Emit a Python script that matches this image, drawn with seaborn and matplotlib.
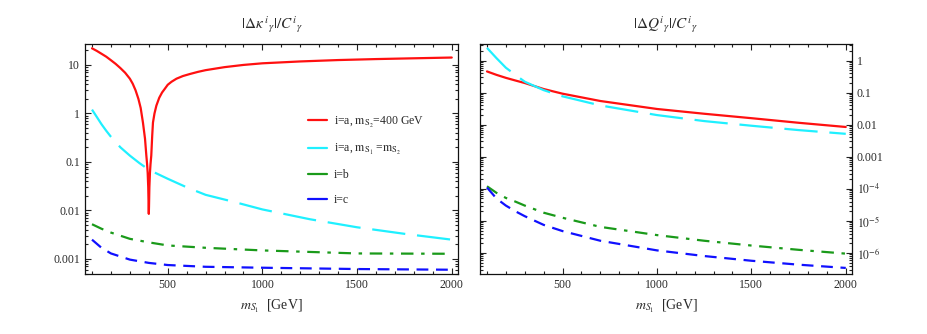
import numpy as np
import pandas as pd
import matplotlib
matplotlib.use("Agg")
import matplotlib.pyplot as plt
import seaborn as sns
from matplotlib.ticker import FixedLocator, FixedFormatter, LogLocator, MultipleLocator, NullFormatter

# ---------------- data ----------------
# left panel: |Delta kappa^i_gamma| / C^i_gamma
kap_red_m = [100, 125, 150, 175, 200, 225, 250, 275, 300, 315, 330, 345, 357, 369, 380, 387, 391, 394,
             397, 399, 400, 401, 403, 406, 409, 413, 418, 422, 430, 440, 455, 470, 484, 500, 520, 546,
             580, 617, 660, 700, 800, 900, 1000, 1200, 1400, 1600, 1800, 2000]
kap_red_v = [22, 19.5, 17, 14.8, 12.5, 10.5, 8.6, 6.9, 5.2, 4.1, 3.0, 2.0, 1.3, 0.65, 0.3, 0.135, 0.09, 0.06,
             0.03, 0.012, 0.0085, 0.012, 0.03, 0.06, 0.09, 0.135, 0.35, 0.65, 1.0, 1.45, 2.1, 2.7, 3.2, 3.9, 4.5, 5.2,
             5.9, 6.5, 7.2, 7.8, 9.0, 10.0, 10.8, 11.8, 12.6, 13.2, 13.7, 14.2]
kap_cyan_m = [100, 125, 150, 175, 200, 250, 300, 350, 400, 500, 600, 700, 850, 1000, 1250, 1500, 1750, 2000]
kap_cyan_v = [1.2, 0.85, 0.6, 0.44, 0.33, 0.2, 0.135, 0.095, 0.069, 0.045, 0.03, 0.021, 0.015, 0.0105,
              0.0066, 0.0045, 0.0033, 0.0025]
kap_green_m = [100, 150, 200, 300, 400, 500, 700, 1000, 1500, 2000]
kap_green_v = [0.0052, 0.0042, 0.0035, 0.0026, 0.0022, 0.0019, 0.0017, 0.0015, 0.0013, 0.00128]
kap_blue_m = [100, 150, 200, 300, 400, 500, 700, 1000, 1500, 2000]
kap_blue_v = [0.0025, 0.0017, 0.0013, 0.00097, 0.00083, 0.00075, 0.00069, 0.00066, 0.00062, 0.0006]

# right panel: |Delta Q^i_gamma| / C^i_gamma
q_m = [100, 150, 200, 250, 300, 400, 500, 700, 1000, 1250, 1500, 1750, 2000]
q_red_v = [0.46, 0.36, 0.29, 0.24, 0.2, 0.13, 0.093, 0.055, 0.031, 0.022, 0.016, 0.0115, 0.0085]
q_cyan_v = [2.5, 1.2, 0.6, 0.36, 0.22, 0.12, 0.077, 0.04, 0.02, 0.013, 0.0093, 0.0068, 0.0052]
q_green_v = [1.2e-4, 7.5e-5, 5.2e-5, 4.0e-5, 3.0e-5, 1.8e-5, 1.25e-5, 6.5e-6, 3.6e-6, 2.4e-6, 1.7e-6, 1.25e-6, 9.5e-7]
q_blue_v = [1.1e-4, 5e-5, 3e-5, 2e-5, 1.4e-5, 7.5e-6, 4.8e-6, 2.4e-6, 1.2e-6, 8e-7, 5.7e-7, 4.3e-7, 3.4e-7]

series_labels = [r"i=a, $\mathrm{m_{S_2}}$=400 GeV",
                 r"i=a, $\mathrm{m_{S_1}}$ =$\mathrm{m_{S_2}}$",
                 "i=b", "i=c"]
left_yticks = [0.001, 0.01, 0.1, 1, 10]
left_yticklabels = ["0.001", "0.01", "0.1", "1", "10"]
right_yticks = [1e-6, 1e-5, 1e-4, 1e-3, 1e-2, 1e-1, 1]
right_yticklabels = [r"$10^{-6}$", r"$10^{-5}$", r"$10^{-4}$", "0.001", "0.01", "0.1", "1"]
xticks = [500, 1000, 1500, 2000]

# ---------------- style ----------------
sns.set_style("ticks")
plt.rcParams["font.family"] = ["Liberation Serif", "DejaVu Serif"]
plt.rcParams["mathtext.fontset"] = "stix"
plt.rcParams["lines.scale_dashes"] = False
txt = "#2a2a2a"

colors = ["#ff1010", "#1ff0ff", "#1a9a1a", "#1010ff"]
styles = ["-", (0, (24, 8.5)), (0, (9, 5.5, 2.5, 5.5)), (0, (8.5, 5.5))]

fig = plt.figure(figsize=(9.27, 3.34), dpi=100)
axL = fig.add_axes([85 / 927, 60 / 334, 373 / 927, 230 / 334])
axR = fig.add_axes([480 / 927, 60 / 334, 372 / 927, 230 / 334])


def draw(ax, xs, ys, lbl):
    for x, y, c, ls, lab in zip(xs, ys, colors, styles, lbl):
        df = pd.DataFrame({"m": x, "v": y})
        sns.lineplot(data=df, x="m", y="v", ax=ax, color=c, linewidth=1.6,
                     label=lab, sort=False, estimator=None)
        ax.get_lines()[-1].set_linestyle(ls)


draw(axL, [kap_red_m, kap_cyan_m, kap_green_m, kap_blue_m],
     [kap_red_v, kap_cyan_v, kap_green_v, kap_blue_v], series_labels)
draw(axR, [q_m] * 4, [q_red_v, q_cyan_v, q_green_v, q_blue_v], series_labels)

for ax in (axL, axR):
    ax.set_yscale("log")
    ax.set_xlim(63, 2033)
    ax.xaxis.set_major_locator(FixedLocator(xticks))
    ax.xaxis.set_major_formatter(FixedFormatter([str(t) for t in xticks]))
    ax.xaxis.set_minor_locator(MultipleLocator(100))
    ax.tick_params(which="both", direction="in", top=True, right=True, left=True,
                   colors="#222222", labelcolor=txt, labelsize=8.5, width=0.8)
    ax.tick_params(which="major", length=4)
    ax.tick_params(which="minor", length=2)
    ax.yaxis.set_minor_locator(LogLocator(base=10, subs=np.arange(2, 10)))
    ax.yaxis.set_minor_formatter(NullFormatter())
    for s in ax.spines.values():
        s.set_color("#111111")
        s.set_linewidth(0.9)
    ax.set_xlabel(r"$m_{S_1}$  [GeV]", fontsize=10, color=txt, labelpad=5)
    ax.set_ylabel("")

axL.set_ylim(4.9e-4, 27)
axL.yaxis.set_major_locator(FixedLocator(left_yticks))
axL.yaxis.set_major_formatter(FixedFormatter(left_yticklabels))

axR.set_ylim(2.2e-7, 3.3)
axR.yaxis.set_major_locator(FixedLocator(right_yticks))
axR.yaxis.set_major_formatter(FixedFormatter(right_yticklabels))
axR.tick_params(axis="y", which="both", labelleft=False, labelright=True)

axL.set_title(r"$|\Delta\kappa^{\,i}{}_{\gamma}|/C^{i}{}_{\gamma}$", fontsize=11, color=txt, pad=11)
axR.set_title(r"$|\Delta Q^{i}{}_{\gamma}|/C^{i}{}_{\gamma}$", fontsize=11, color=txt, pad=11)

axR.get_legend().remove()
leg = axL.legend(loc="upper left", bbox_to_anchor=(0.585, 0.714), frameon=False,
                 fontsize=8.5, handlelength=1.65, handletextpad=0.55, labelspacing=1.05,
                 borderaxespad=0)
for h in leg.get_lines():
    h.set_linestyle("-")
    h.set_linewidth(1.6)
for t in leg.get_texts():
    t.set_color(txt)

fig.savefig("out.png", dpi=100)
